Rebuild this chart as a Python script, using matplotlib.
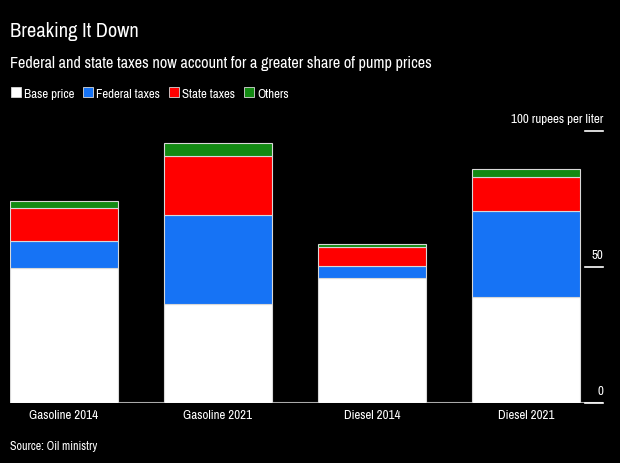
import matplotlib
matplotlib.use('Agg')
import matplotlib.pyplot as plt
from matplotlib.patches import Rectangle

plt.rcParams['font.family'] = ['Archivo Narrow', 'Liberation Sans', 'DejaVu Sans']

categories = ['Gasoline 2014', 'Gasoline 2021', 'Diesel 2014', 'Diesel 2021']
base_price = [49.6, 36.4, 46.0, 39.1]
federal_taxes = [10.1, 32.8, 4.5, 31.4]
state_taxes = [11.9, 21.7, 6.7, 12.5]
others = [2.6, 4.7, 1.3, 3.0]
series_names = ['Base price', 'Federal taxes', 'State taxes', 'Others']
colors = ['#ffffff', '#1673f5', '#ff0000', '#138a13']
yticks = [0, 50, 100]
ytick_labels = ['0', '50', '100 rupees per liter']

W, H = 620, 464
fig = plt.figure(figsize=(W / 100, H / 100), dpi=100, facecolor='black')
ax = fig.add_axes([10 / W, 60 / H, 593 / W, 272 / H])
ax.set_facecolor('black')

x = range(len(categories))
bottom = [0] * len(categories)
for vals, col in zip([base_price, federal_taxes, state_taxes, others], colors):
    ax.bar(x, vals, width=0.7, bottom=bottom, color=col, edgecolor='#d8d8d8', linewidth=0.8)
    bottom = [b + v for b, v in zip(bottom, vals)]

ax.set_xlim(-0.35, 3.499)
ax.set_ylim(0, 100)
ax.axhline(0, color='#aaaaaa', linewidth=1.5, zorder=0)
for s in ax.spines.values():
    s.set_visible(False)
ax.set_yticks([])
ax.set_xticks(list(x))
ax.set_xticklabels(categories, color='white', fontsize=9.3)
ax.tick_params(axis='x', length=0, pad=4.5)

# right-side labels sitting above short tick lines
for t, lab in zip(yticks, ytick_labels):
    ax.plot([575 / 593, 1.0], [t, t], transform=ax.get_yaxis_transform(), color='white',
            linewidth=1.2, clip_on=False)
    ax.annotate(lab, (1.0, t), xycoords=ax.get_yaxis_transform(), xytext=(0, 6.5),
                textcoords='offset points', ha='right', va='baseline', color='white', fontsize=9.4)

fig.text(10 / W, 1 - 36.7 / H, 'Breaking It Down', color='white', fontsize=14.7, va='baseline')
fig.text(10 / W, 1 - 68.3 / H, 'Federal and state taxes now account for a greater share of pump prices',
         color='white', fontsize=11.65, va='baseline')
fig.text(10 / W, 1 - 450 / H, 'Source: Oil ministry', color='white', fontsize=8.6, va='baseline')

# legend: small squares followed by labels
fig.canvas.draw()
rend = fig.canvas.get_renderer()
px = 11
for name, col in zip(series_names, colors):
    fig.patches.append(Rectangle((px / W, 1 - 98 / H), 10 / W, 10 / H, transform=fig.transFigure,
                                 facecolor=col, edgecolor='#d8d8d8', linewidth=0.6))
    txt = fig.text((px + 13) / W, 1 - 97.7 / H, name, color='white', fontsize=9.3, va='baseline')
    px += 13 + txt.get_window_extent(rend).width + 9

fig.savefig('out.png', dpi=100, facecolor='black')
